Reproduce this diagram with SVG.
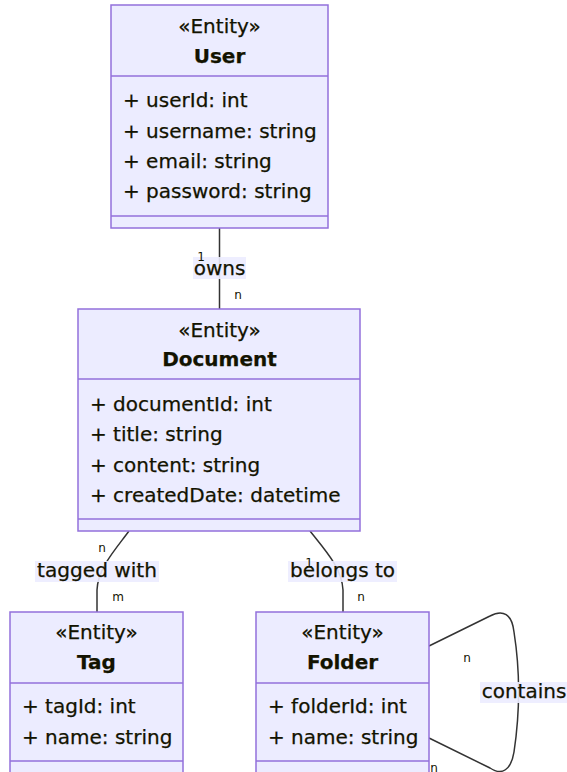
<svg xmlns="http://www.w3.org/2000/svg" width="567" height="772" viewBox="0 0 567 772">
<style>
.box{fill:#ECECFF;stroke:#9370DB;stroke-width:1.5}
.div{stroke:#9370DB;stroke-width:1.5}
.t{font-family:"DejaVu Sans",Verdana,sans-serif;font-size:20px;fill:#131300;stroke:#131300;stroke-width:0.25}
.c{text-anchor:middle}
.b{font-weight:bold}
.edge{fill:none;stroke:#333;stroke-width:1.5}
.lbg{fill:#ECECFF;opacity:0.9}
.lt{font-family:"DejaVu Sans",Verdana,sans-serif;font-size:20px;fill:#131300;stroke:#131300;stroke-width:0.25;text-anchor:middle}
.card{font-family:"DejaVu Sans",Verdana,sans-serif;font-size:12px;fill:#131300;text-anchor:middle}
</style>
<rect width="567" height="772" fill="#ffffff"/>
<g id="connectors">
<path class="edge" d="M219.5,228 L219.5,309"/>
<path class="edge" d="M129,531 C115,550 98,568 97,590 L97,612"/>
<path class="edge" d="M310,531 C325,550 342,568 343,590 L343,612"/>
<path class="edge" d="M429,646 L490,616 C503,609 512,614 514,632 C520,670 520,712 514,752 C511,770 502,776 490,768 L429,738"/>
<rect class="lbg" x="193" y="257" width="53" height="22"/>
<text class="lt" x="219.5" y="275">owns</text>
<rect class="lbg" x="35" y="561" width="124" height="21"/>
<text class="lt" x="97" y="577" textLength="120" lengthAdjust="spacingAndGlyphs">tagged with</text>
<rect class="lbg" x="288" y="561" width="109" height="21"/>
<text class="lt" x="342.5" y="577">belongs to</text>
<rect class="lbg" x="480" y="682" width="90" height="21"/>
<text class="lt" x="524" y="698">contains</text>
<text class="card" x="201" y="261">1</text>
<text class="card" x="238" y="299">n</text>
<text class="card" x="102" y="552">n</text>
<text class="card" x="118" y="601">m</text>
<text class="card" x="309" y="567">1</text>
<text class="card" x="361" y="601">n</text>
<text class="card" x="467" y="662">n</text>
<text class="card" x="434" y="772">n</text>
</g>
<g id="User">
<rect class="box" x="111" y="5" width="217" height="223"/>
<line class="div" x1="111" y1="76" x2="328" y2="76"/>
<line class="div" x1="111" y1="216" x2="328" y2="216"/>
<text class="t c" x="219.5" y="33">«Entity»</text>
<text class="t c b" x="219.5" y="63">User</text>
<text class="t" x="123" y="107">+ userId: int</text>
<text class="t" x="123" y="138">+ username: string</text>
<text class="t" x="123" y="168">+ email: string</text>
<text class="t" x="123" y="198">+ password: string</text>
</g>
<g id="Document">
<rect class="box" x="78" y="309" width="282" height="222"/>
<line class="div" x1="78" y1="379" x2="360" y2="379"/>
<line class="div" x1="78" y1="519" x2="360" y2="519"/>
<text class="t c" x="219.5" y="337">«Entity»</text>
<text class="t c b" x="219.5" y="366">Document</text>
<text class="t" x="90" y="411">+ documentId: int</text>
<text class="t" x="90" y="441">+ title: string</text>
<text class="t" x="90" y="472">+ content: string</text>
<text class="t" x="90" y="502">+ createdDate: datetime</text>
</g>
<g id="Tag">
<rect class="box" x="10" y="612" width="173" height="162"/>
<line class="div" x1="10" y1="683" x2="183" y2="683"/>
<line class="div" x1="10" y1="761" x2="183" y2="761"/>
<text class="t c" x="96.5" y="639">«Entity»</text>
<text class="t c b" x="96.5" y="669">Tag</text>
<text class="t" x="22" y="713">+ tagId: int</text>
<text class="t" x="22" y="744">+ name: string</text>
</g>
<g id="Folder">
<rect class="box" x="256" y="612" width="173" height="162"/>
<line class="div" x1="256" y1="683" x2="429" y2="683"/>
<line class="div" x1="256" y1="761" x2="429" y2="761"/>
<text class="t c" x="342.5" y="639">«Entity»</text>
<text class="t c b" x="342.5" y="669">Folder</text>
<text class="t" x="268" y="713">+ folderId: int</text>
<text class="t" x="268" y="744">+ name: string</text>
</g>
</svg>
